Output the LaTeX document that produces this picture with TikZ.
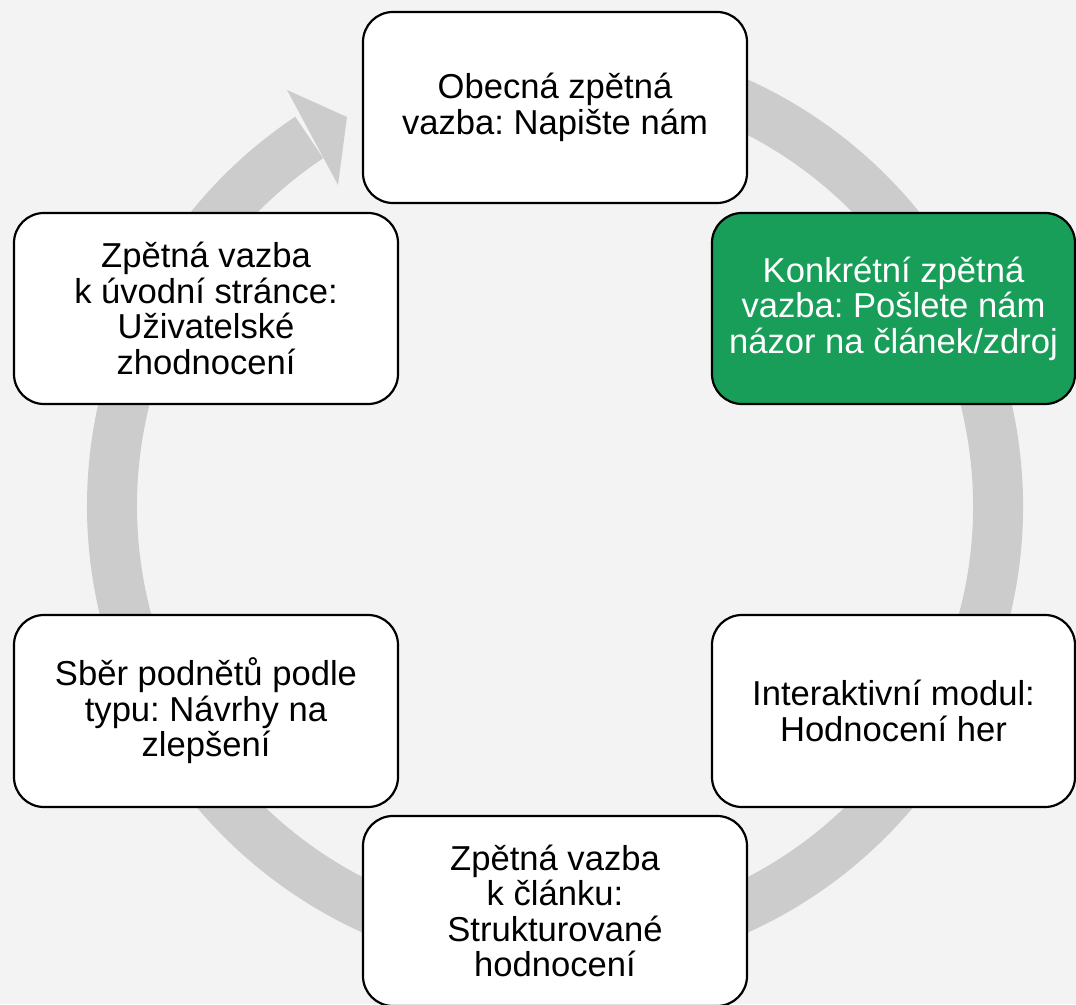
\documentclass[tikz,border=0pt]{standalone}
\usepackage{fontspec}
\setmainfont{Liberation Sans}
\frenchspacing
\definecolor{bgc}{RGB}{243,243,243}
\definecolor{ringc}{RGB}{204,204,204}
\definecolor{greenc}{RGB}{24,158,88}
\begin{document}
\begin{tikzpicture}[x=1pt,y=1pt,
  box/.style={draw=black, line width=2.2pt, rounded corners=30pt, fill=white,
    minimum height=191pt, inner sep=0pt, align=center,
    font=\fontsize{34.6}{35.5}\selectfont\frenchspacing},
  wide/.style={minimum width=384pt},
  narrow/.style={minimum width=363pt},
  hl/.style={fill=greenc, text=white}]
\useasboundingbox (0,0) rectangle (1076,1004);
\fill[bgc] (0,0) rectangle (1076,1004);
% ring arrow
\coordinate (ctr) at (555,498);
\draw[ringc, line width=50pt] ([shift={(100:443)}]ctr) arc[start angle=100, end angle=-236.3, radius=443];
\coordinate (hOut) at (287,914);
\coordinate (hTip) at (347,887);
\coordinate (hIn) at (338,819);
\fill[ringc] (hOut) -- (hTip) -- (hIn) -- cycle;
% boxes
\node[box,wide] (top) at (555,896.5) {\raisebox{-3pt}{\parbox{384pt}{\centering Obecná zpětná\\vazba: Napište nám}}};
\node[box,narrow,hl] (spec) at (893.5,695.5) {Konkrétní zpětná\\vazba: Pošlete nám\\názor na článek/zdroj};
\node[box,narrow,minimum height=192pt] (game) at (893.5,293) {Interaktivní modul:\\Hodnocení her};
\node[box,wide,minimum height=190pt] (article) at (555,93) {Zpětná vazba\\k článku:\\Strukturované\\hodnocení};
\node[box,wide,minimum height=192pt] (ideas) at (206,293) {Sběr podnětů podle\\typu: Návrhy na\\zlepšení};
\node[box,wide] (home) at (206,695.5) {Zpětná vazba\\k úvodní stránce:\\Uživatelské\\zhodnocení};
\end{tikzpicture}
\end{document}
